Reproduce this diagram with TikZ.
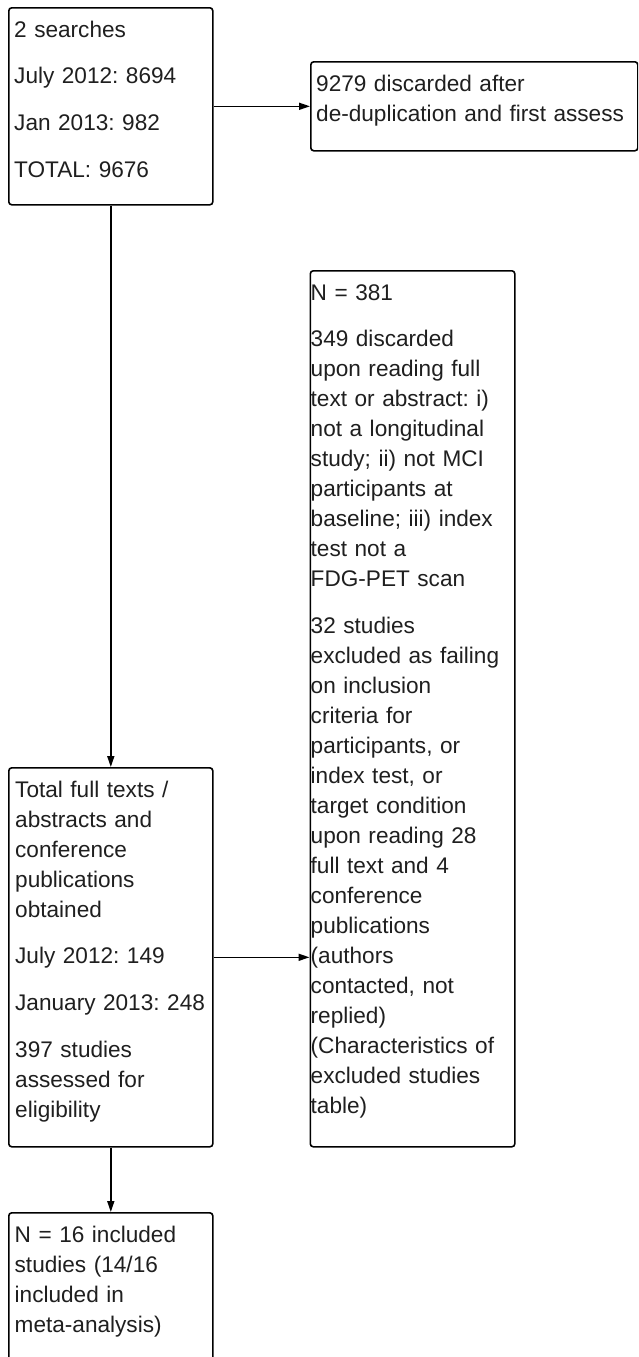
\documentclass[tikz,border=0pt]{standalone}
\usepackage{fontspec}
\setmainfont{Liberation Sans}
\usetikzlibrary{arrows.meta}
\tikzset{
  box/.style={draw=black, line width=1.6pt, rounded corners=3pt, anchor=north west, inner sep=0pt, fill=none},
  txt/.style={anchor=north west, inner sep=0pt, text width=330pt, align=left,
    font=\fontsize{22.6}{30}\selectfont\frenchspacing, text=black!88},
  conn/.style={draw=black, line width=1.6pt, -{Triangle[length=11pt,width=7pt]}}
}
\newcommand{\fl}{\rule{0pt}{30pt}}
\newcommand{\pg}{\\[16.7pt]}
\begin{document}
\begin{tikzpicture}[x=1pt,y=-1pt]
\useasboundingbox (0,0) rectangle (638,1357);
\clip (0,0) rectangle (638,1357);
\fill[white] (0,0) rectangle (638,1357);
% boxes
\node[box, minimum width=204pt, minimum height=197pt] (b1) at (8,7) {};
\node[box, minimum width=327pt, minimum height=89pt] (b2) at (310,61) {};
\node[box, minimum width=204.5pt, minimum height=876pt] (b3) at (309.5,270) {};
\node[box, minimum width=204pt, minimum height=379pt] (b4) at (8,767) {};
\node[box, minimum width=204pt, minimum height=220pt] (b5) at (8,1212) {};
% texts
\node[txt] (t1) at (14,7) {\fl 2 searches\pg July 2012: 8694\pg Jan 2013: 982\pg TOTAL: 9676};
\node[txt] (t2) at (316,61) {\fl 9279 discarded after\\de-duplication and first assess};
\node[txt] (t3) at (310.5,270) {\fl N = 381\pg 349 discarded\\upon reading full\\text or abstract: i)\\not a longitudinal\\study; ii) not MCI\\participants at\\baseline; iii) index\\test not a\\FDG-PET scan\pg 32 studies\\excluded as failing\\on inclusion\\criteria for\\participants, or\\index test, or\\target condition\\upon reading 28\\full text and 4\\conference\\publications\\(authors\\contacted, not\\replied)\\(Characteristics of\\excluded studies\\table)};
\node[txt] (t4) at (15,767) {\fl Total full texts /\\abstracts and\\conference\\publications\\obtained\pg July 2012: 149\pg January 2013: 248\pg 397 studies\\assessed for\\eligibility};
\node[txt] (t5) at (14.5,1212) {\fl N = 16 included\\studies (14/16\\included in\\meta-analysis)};
% connectors
\draw[conn] (b1.east) -- (b2.west);
\draw[conn] (b1.south) -- (b4.north);
\draw[conn] (b4.east) -- (b4.east -| b3.west);
\draw[conn] (b4.south) -- (b5.north);
\end{tikzpicture}
\end{document}
